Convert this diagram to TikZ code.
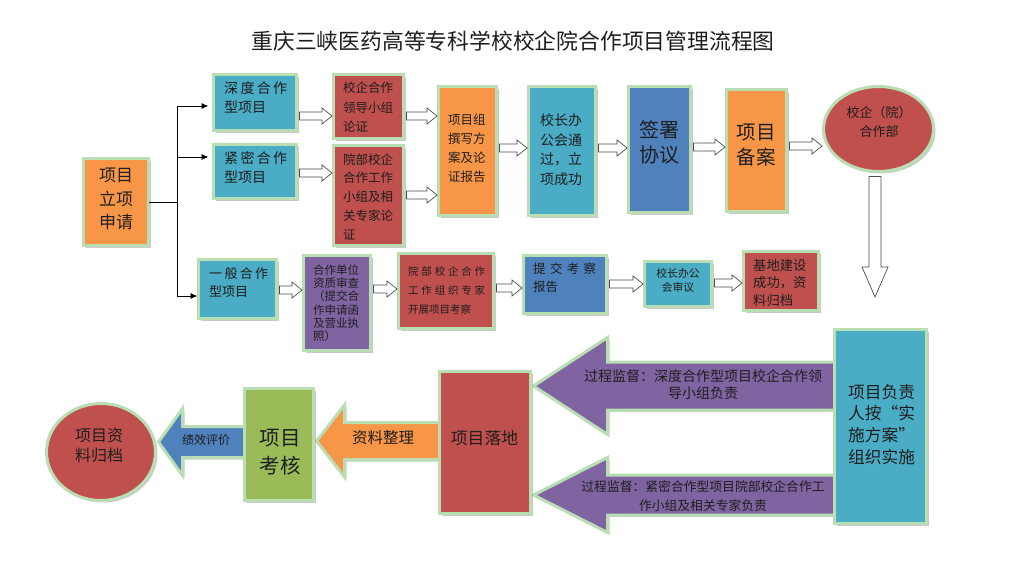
\documentclass[tikz,border=0pt]{standalone}
\usepackage{fontspec}
\setmainfont{Noto Sans CJK SC}
\usetikzlibrary{shadows,calc,arrows.meta,shapes.geometric}
\definecolor{borderg}{RGB}{186,222,180}
\definecolor{corange}{HTML}{F79646}
\definecolor{caqua}{HTML}{4BACC6}
\definecolor{cblue}{HTML}{4F81BD}
\definecolor{cred}{HTML}{C0504D}
\definecolor{cpurple}{HTML}{8064A2}
\definecolor{cgreen}{HTML}{9BBB59}
\definecolor{ink}{HTML}{1E1E1E}
\pgfdeclarelayer{bg}
\pgfdeclarelayer{paper}
\pgfsetlayers{paper,bg,main}
\newcommand\spread[2]{\makebox[#1][s]{#2}}
\newcommand\hf{\hfill}
\tikzset{
  box/.style={draw=borderg, line width=3pt, inner sep=0pt, outer sep=0pt,
    drop shadow={shadow xshift=2pt, shadow yshift=-2pt, fill=black!60, opacity=0.35}},
  txt/.style={inner sep=0pt, text=ink},
  hollow/.style={draw=black!70, fill=white, line width=0.7pt},
  bigarr/.style={draw=borderg, line width=3pt, line join=miter,
    drop shadow={shadow xshift=2pt, shadow yshift=-2pt, fill=black!60, opacity=0.35}},
  conn/.style={line width=0.9pt, black},
}
\newcommand\bx[7][]{\node[box, fill=#3, minimum width={#6-#4-3}, minimum height={#7-#5-3}, #1] (#2) at ({(#4+#6)/2},{(#5+#7)/2}) {};}
\newcommand\harr[3]{\draw[hollow] let \p1=(#1.east), \p2=(#2.west), \p3=(0,#3) in
  (\x1+3pt,\y3+4pt) -- (\x2-11.5pt,\y3+4pt) -- (\x2-11.5pt,\y3+8pt) -- (\x2-1.5pt,\y3)
  -- (\x2-11.5pt,\y3-8pt) -- (\x2-11.5pt,\y3-4pt) -- (\x1+3pt,\y3-4pt) -- cycle;}
\newcommand\larr[7]{\draw[bigarr, fill=#7] let \p1=(#1.west), \p2=(#2.east), \p3=(0,#3) in
  (\x2+3pt,\y3) -- (\x2+3pt+#6pt,\y3+#5pt) -- (\x2+3pt+#6pt,\y3+#4pt) -- (\x1+2pt,\y3+#4pt)
  -- (\x1+2pt,\y3-#4pt) -- (\x2+3pt+#6pt,\y3-#4pt) -- (\x2+3pt+#6pt,\y3-#5pt) -- cycle;}
\begin{document}
\begin{tikzpicture}[x=1pt,y=-1pt]
\begin{pgfonlayer}{paper}
\fill[white] (0,0) rectangle (1024,586);
\end{pgfonlayer}
\useasboundingbox (0,0) rectangle (1024,586);

\node[txt, font=\fontsize{21.8}{26}\selectfont] (title) at (513,41) {重庆三峡医药高等专科学校校企院合作项目管理流程图};

% boxes
\bx{apply}{corange}{82}{157}{150}{247}
\bx{deep}{caqua}{212}{73}{298}{132}
\bx{close}{caqua}{212}{143}{298}{200}
\bx{lead}{cred}{332}{73}{405}{140}
\bx{dept}{cred}{332}{144}{405}{247}
\bx{group}{corange}{437}{85}{498}{217}
\bx{pass}{caqua}{527}{85}{597}{217}
\bx{sign}{cblue}{627}{85}{692}{214}
\bx{record}{corange}{725}{88}{788}{213}
\bx[ellipse]{coop}{cred}{822}{85}{935}{173}
\bx{general}{caqua}{197}{258}{278}{320}
\bx{qual}{cpurple}{302}{254}{372}{352}
\bx{inspect}{cred}{397}{252}{495}{330}
\bx{report}{cblue}{522}{254}{608}{315}
\bx{review}{caqua}{643}{260}{713}{308}
\bx{base}{cred}{742}{250}{820}{312}
\bx{impl}{caqua}{833}{328}{928}{525}
\bx{land}{cred}{438}{370}{532}{515}
\bx{assess}{cgreen}{243}{387}{315}{502}
\bx[ellipse]{archive}{cred}{45}{402}{157}{502}

% big block arrows (under boxes)
\begin{pgfonlayer}{bg}
\larr{impl}{land}{386}{24}{48.5}{74}{cpurple}
\larr{impl}{land}{495}{20}{37.5}{74}{cpurple}
\larr{land}{assess}{441}{18.5}{36}{28}{corange}
\larr{assess}{archive}{442}{15.5}{33.5}{24}{cblue}
\end{pgfonlayer}

% hollow arrows
\harr{deep}{lead}{116}
\harr{close}{dept}{173}
\harr{lead}{group}{116}
\harr{dept}{group}{195}
\harr{group}{pass}{148}
\harr{pass}{sign}{148}
\harr{sign}{record}{147}
\harr{record}{coop}{146}
\harr{general}{qual}{290}
\harr{qual}{inspect}{289}
\harr{inspect}{report}{288}
\harr{report}{review}{284}
\harr{review}{base}{283}

\coordinate (dtip) at (875,297);
\draw[hollow] let \p1=(coop.south), \p2=(dtip) in
  (\x2-6pt,\y1-5pt) -- (\x2-6pt,\y2+30pt) -- (\x2-13pt,\y2+30pt) -- (\x2,\y2)
  -- (\x2+13pt,\y2+30pt) -- (\x2+6pt,\y2+30pt) -- (\x2+6pt,\y1-5pt) -- cycle;

% connectors from apply
\coordinate (jn) at (177,202);
\draw[conn] (apply.east) -- (jn);
\draw[conn,-{Latex[length=7pt,width=6pt]}, shorten >=5pt] (jn) |- (deep.west |- 0,106);
\draw[conn,-{Latex[length=7pt,width=6pt]}, shorten >=5pt] (jn) |- (close.west |- 0,157);
\draw[conn,-{Latex[length=7pt,width=6pt]}, shorten >=1pt] (jn) |- (general.west |- 0,296);

% texts
\node[txt, font=\fontsize{17}{23.5}\selectfont, align=center] (apply-t) at (116,199) {项目\\立项\\申请};
\node[txt, font=\fontsize{14}{19}\selectfont, align=left, anchor=west] (deep-t) at (224,97.5) {\spread{63pt}{深\hf{}度\hf{}合\hf{}作}\\型项目};
\node[txt, font=\fontsize{14}{19}\selectfont, align=left, anchor=west] (close-t) at (224,168) {\spread{63pt}{紧\hf{}密\hf{}合\hf{}作}\\型项目};
\node[txt, font=\fontsize{12.5}{19.5}\selectfont, align=left, anchor=west] (lead-t) at (343,107.5) {校企合作\\领导小组\\论证};
\node[txt, font=\fontsize{12.5}{18.7}\selectfont, align=left, anchor=west] (dept-t) at (343,196.7) {院部校企\\合作工作\\小组及相\\关专家论\\证};
\node[txt, font=\fontsize{12.5}{19}\selectfont, align=left, anchor=west] (group-t) at (448,148.5) {项目组\\撰写方\\案及论\\证报告};
\node[txt, font=\fontsize{14}{19.5}\selectfont, align=left] (pass-t) at (561,149.5) {校长办\\公会通\\过，立\\项成功};
\node[txt, font=\fontsize{20}{25}\selectfont, align=center] (sign-t) at (659,142.5) {签署\\协议};
\node[txt, font=\fontsize{19.5}{25}\selectfont, align=center] (record-t) at (756,145.5) {项目\\备案};
\node[txt, font=\fontsize{13}{19}\selectfont, align=center] (coop-t) at (879,121.5) {校企（院）\\合作部};
\node[txt, font=\fontsize{13}{18}\selectfont, align=left, anchor=west] (general-t) at (209,283) {\spread{59pt}{一\hf{}般\hf{}合\hf{}作}\\型项目};
\node[txt, font=\fontsize{11.5}{13.3}\selectfont, align=left, anchor=west] (qual-t) at (313,303.3) {合作单位\\资质审查\\（提交合\\作申请函\\及营业执\\照）};
\node[txt, font=\fontsize{10.5}{19}\selectfont, align=left, anchor=west] (inspect-t) at (408,290) {\spread{77pt}{院\hf{}部\hf{}校\hf{}企\hf{}合\hf{}作}\\\spread{77pt}{工\hf{}作\hf{}组\hf{}织\hf{}专\hf{}家}\\开展项目考察};
\node[txt, font=\fontsize{12.5}{18.5}\selectfont, align=left, anchor=west] (report-t) at (533,277.5) {\spread{63pt}{提\hf{}交\hf{}考\hf{}察}\\报告};
\node[txt, font=\fontsize{10.8}{14.5}\selectfont, align=center] (review-t) at (678,280.3) {校长办公\\会审议};
\node[txt, font=\fontsize{13.3}{17.5}\selectfont, align=left, anchor=west] (base-t) at (753,282.5) {基地建设\\成功，资\\料归档};
\node[txt, font=\fontsize{16.7}{21.7}\selectfont, align=left, anchor=west] (impl-t) at (848,424.3) {项目负责\\人按\makebox[1em][r]{“}实\\施方案\makebox[1em][l]{”}\\组织实施};
\node[txt, font=\fontsize{16.8}{20}\selectfont] (land-t) at (484.5,438) {项目落地};
\node[txt, font=\fontsize{20.5}{28.5}\selectfont, align=center] (assess-t) at (280,452) {项目\\考核};
\node[txt, font=\fontsize{16}{20}\selectfont, align=center] (archive-t) at (99,445) {项目资\\料归档};
\node[txt, font=\fontsize{14}{17}\selectfont, align=center] (sup1-t) at (703,384.5) {过程监督：深度合作型项目校企合作领\\导小组负责};
\node[txt, font=\fontsize{12.8}{18.3}\selectfont, align=center] (sup2-t) at (703,496) {过程监督：紧密合作型项目院部校企合作工\\作小组及相关专家负责};
\node[txt, font=\fontsize{15.5}{18}\selectfont] (sort-t) at (383,438) {资料整理};
\node[txt, font=\fontsize{12}{14}\selectfont] (eval-t) at (206,440) {绩效评价};
\end{tikzpicture}
\end{document}
